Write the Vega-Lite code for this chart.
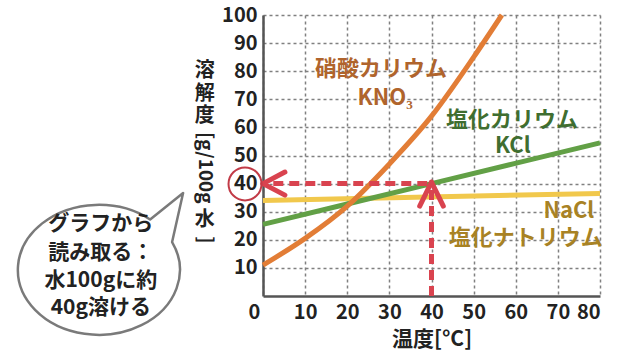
{
  "$schema": "https://vega.github.io/schema/vega-lite/v6.json",
  "width": 337,
  "height": 281,
  "autosize": {"type": "none"},
  "padding": {"left": 263, "top": 15, "right": 44, "bottom": 65},
  "background": "white",
  "config": {
    "view": {"stroke": null},
    "font": "Noto Sans CJK JP",
    "axis": {
      "grid": true,
      "gridColor": "#808080", "gridDash": [3, 3], "gridWidth": 1.5, "gridOpacity": 1,
      "labelOverlap": false,
      "labelFontSize": 20, "labelFontWeight": "bold", "labelColor": "#222", "labelPadding": 6,
      "ticks": false,
      "domainColor": "#555", "domainWidth": 2.5
    }
  },
  "datasets": {
    "curves": [
      {"substance": "NaCl", "x": 0, "y": 34},
      {"substance": "NaCl", "x": 80, "y": 36.5},
      {"substance": "KCl", "x": 0, "y": 25.5},
      {"substance": "KCl", "x": 40, "y": 40},
      {"substance": "KCl", "x": 80, "y": 54.5},
      {"substance": "KNO3", "x": 0, "y": 11},
      {"substance": "KNO3", "x": 10, "y": 20.5},
      {"substance": "KNO3", "x": 20, "y": 32},
      {"substance": "KNO3", "x": 30, "y": 47},
      {"substance": "KNO3", "x": 40, "y": 64},
      {"substance": "KNO3", "x": 50, "y": 85},
      {"substance": "KNO3", "x": 56.7, "y": 100}
    ],
    "shafts": [
      {"x": 39, "y": 40, "x2": 2, "y2": 40},
      {"x": 40, "y": 0, "x2": 40, "y2": 38}
    ],
    "heads": [
      {"x": 0, "y": 40, "x2": 5.2, "y2": 44.1},
      {"x": 0, "y": 40, "x2": 5.2, "y2": 35.9},
      {"x": 40, "y": 40.5, "x2": 37.2, "y2": 32},
      {"x": 40, "y": 40.5, "x2": 42.8, "y2": 32}
    ],
    "marker": [{"x": -4.27, "y": 39.9}],
    "bubble": [{"x": -38.9, "y": 9.25}],
    "bubbleText": [
      {"text": "グラフから", "x": -38.5, "y": 25.6},
      {"text": "読み取る：", "x": -38.5, "y": 15.3},
      {"text": "水100gに約", "x": -38.5, "y": 5.3},
      {"text": "40g溶ける", "x": -38.5, "y": -4.3}
    ],
    "titleUpright": [
      {"text": "溶", "x": -13.8, "y": 80.1},
      {"text": "解", "x": -13.8, "y": 72.0},
      {"text": "度", "x": -13.8, "y": 63.9},
      {"text": "水", "x": -13.8, "y": 27.2}
    ],
    "titleRotated": [
      {"text": "[g/100g", "x": -13.8, "y": 45.6},
      {"text": "]", "x": -13.8, "y": 20.0}
    ],
    "labels": [
      {"text": "硝酸カリウム", "series": "KNO3", "x": 28.0, "y": 80.8},
      {"text": "KNO₃", "series": "KNO3", "x": 29.0, "y": 70.6},
      {"text": "塩化カリウム", "series": "KCl", "x": 59.1, "y": 62.5},
      {"text": "KCl", "series": "KCl", "x": 59.3, "y": 53.5},
      {"text": "NaCl", "series": "NaCl", "x": 72.6, "y": 30.4},
      {"text": "塩化ナトリウム", "series": "NaCl", "x": 62.4, "y": 20.8}
    ]
  },
  "resolve": {"scale": {"color": "independent"}},
  "encoding": {
    "x": {
      "field": "x", "type": "quantitative",
      "scale": {"domain": [0, 80], "nice": false},
      "axis": {
        "values": [0, 10, 20, 30, 40, 50, 60, 70, 80],
        "title": "温度[°C]",
        "titleFontSize": 21, "titleFontWeight": "bold", "titleColor": "#222", "titlePadding": 6,
        "labelOffset": {"condition": {"test": "datum.value == 0", "value": -15}, "value": 0}
      }
    },
    "y": {
      "field": "y", "type": "quantitative",
      "scale": {"domain": [0, 100], "nice": false},
      "axis": {
        "values": [10, 20, 30, 40, 50, 60, 70, 80, 90, 100],
        "title": null
      }
    }
  },
  "layer": [
    {
      "data": {"name": "curves"},
      "mark": {"type": "line", "strokeWidth": 5, "interpolate": "monotone", "strokeCap": "butt"},
      "encoding": {
        "color": {
          "field": "substance", "type": "nominal", "legend": null,
          "scale": {"domain": ["KNO3", "KCl", "NaCl"], "range": ["#e27d36", "#62a046", "#f1c84c"]}
        },
        "order": {"field": "x", "type": "quantitative"}
      }
    },
    {
      "data": {"name": "shafts"},
      "mark": {"type": "rule", "color": "#d9434f", "strokeWidth": 5, "strokeDash": [10, 6]},
      "encoding": {
        "x2": {"field": "x2"},
        "y2": {"field": "y2"}
      }
    },
    {
      "data": {"name": "heads"},
      "mark": {"type": "rule", "color": "#d9434f", "strokeWidth": 5, "strokeCap": "round"},
      "encoding": {
        "x2": {"field": "x2"},
        "y2": {"field": "y2"}
      }
    },
    {
      "data": {"name": "marker"},
      "mark": {"type": "point", "shape": "circle", "size": 1089, "filled": false, "stroke": "#c23b47", "strokeWidth": 2, "opacity": 1}
    },
    {
      "data": {"name": "bubble"},
      "mark": {
        "type": "point",
        "shape": "M0.89,-0.341 A0.988,0.793 0 1 1 0.622,-0.616 L1.024,-0.939 Z",
        "size": 26896, "filled": true, "fill": "white", "fillOpacity": 1,
        "stroke": "#7a7a7a", "strokeWidth": 2.5, "opacity": 1, "strokeJoin": "round"
      }
    },
    {
      "data": {"name": "bubbleText"},
      "mark": {"type": "text", "fontSize": 21, "fontWeight": "bold", "color": "#222", "align": "center", "baseline": "middle"},
      "encoding": {"text": {"field": "text"}}
    },
    {
      "data": {"name": "titleUpright"},
      "mark": {"type": "text", "fontSize": 20, "fontWeight": "bold", "color": "#222", "align": "center", "baseline": "middle"},
      "encoding": {"text": {"field": "text"}}
    },
    {
      "data": {"name": "titleRotated"},
      "mark": {"type": "text", "fontSize": 19, "fontWeight": "bold", "color": "#222", "align": "center", "baseline": "middle", "angle": 90},
      "encoding": {"text": {"field": "text"}}
    },
    {
      "data": {"name": "labels"},
      "mark": {"type": "text", "fontSize": 22, "fontWeight": "bold", "align": "center", "baseline": "middle"},
      "encoding": {
        "text": {"field": "text"},
        "color": {
          "field": "series", "type": "nominal", "legend": null,
          "scale": {"domain": ["KNO3", "KCl", "NaCl"], "range": ["#b0642c", "#3f6e30", "#a88224"]}
        }
      }
    }
  ]
}
